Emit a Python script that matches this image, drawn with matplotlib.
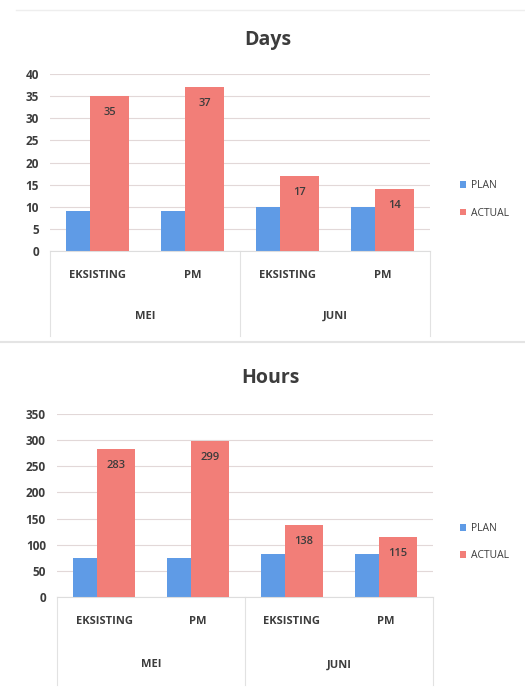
import matplotlib
matplotlib.use('Agg')
import matplotlib.pyplot as plt
import numpy as np

plt.rcParams['font.family'] = ['Open Sans', 'DejaVu Sans']

categories = ['EKSISTING', 'PM', 'EKSISTING', 'PM']
groups = ['MEI', 'JUNI']
series = ['PLAN', 'ACTUAL']

days_plan = [9, 9, 10, 10]
days_actual = [35, 37, 17, 14]
hours_plan = [74, 75, 82, 83]
hours_actual = [283, 299, 138, 115]

BLUE = '#5f9be6'
RED = '#f27e78'
TXT = '#3c3c3c'
GRID = '#e2d8d8'


def draw_panel(ax, title, plan, actual, ymax, ystep, title_x, title_y, leg_y):
    x = np.arange(len(categories))
    w = 0.41
    off = 0.126
    b1 = ax.bar(x - off, plan, w, color=BLUE, zorder=2, label=series[0])
    b2 = ax.bar(x + off, actual, w, color=RED, zorder=3, label=series[1])
    for xi, v in zip(x, actual):
        ax.annotate(str(v), (xi + off, v), xytext=(0, -12), textcoords='offset points',
                    ha='center', va='center', fontsize=8, color=TXT, zorder=4,
                    fontweight='semibold')
    ax.set_xlim(-0.5, len(categories) - 0.5)
    ax.set_ylim(0, ymax)
    ax.set_yticks(np.arange(0, ymax + 1, ystep))
    ax.yaxis.grid(True, color=GRID, lw=0.8, zorder=0)
    ax.set_axisbelow(True)
    for s in ['top', 'right', 'left']:
        ax.spines[s].set_visible(False)
    ax.spines['bottom'].set_color('#dddddd')
    ax.tick_params(axis='y', length=0, labelsize=8.5, labelcolor=TXT, pad=8)
    ax.tick_params(axis='x', length=0, labelsize=8, labelcolor=TXT, pad=14)
    ax.set_xticks(x)
    ax.set_xticklabels(categories)
    for lab in ax.get_yticklabels() + ax.get_xticklabels():
        lab.set_fontweight('bold')
    # group labels and separators under the axis
    trans = ax.get_xaxis_transform()
    for gi, g in enumerate(groups):
        ax.text(gi * 2 + 0.5, -0.37, g, transform=trans, ha='center', va='center',
                fontsize=8, color=TXT, fontweight='bold')
    for xs in [-0.5, 1.5, 3.5]:
        ax.plot([xs, xs], [0, -0.48], transform=trans, color='#e2e2e2', lw=0.8,
                clip_on=False)
    ax.figure.text(title_x, title_y, title, ha='center',
                   va='center', fontsize=14, fontweight='bold', color=TXT)
    ax.legend(handles=[b1, b2], loc='center left', bbox_to_anchor=(0.858, leg_y),
              bbox_transform=ax.figure.transFigure, frameon=False, fontsize=7.5,
              handlelength=0.6, handleheight=0.6, handletextpad=0.5,
              labelspacing=1.55, labelcolor=TXT)


fig = plt.figure(figsize=(5.25, 6.87), dpi=100)
fig.patch.set_facecolor('white')

ax1 = fig.add_axes([0.0952, 0.6346, 0.724, 0.2576])
draw_panel(ax1, 'Days', days_plan, days_actual, 40, 5,
           268 / 525, 1 - 40 / 687, 1 - 199.5 / 687)

ax2 = fig.add_axes([0.1086, 0.131, 0.716, 0.2664])
draw_panel(ax2, 'Hours', hours_plan, hours_actual, 350, 50,
           270 / 525, 1 - 378 / 687, 1 - 542 / 687)

# faint panel borders
fig.add_artist(plt.Line2D([0.03, 1.0], [1 - 10 / 687, 1 - 10 / 687], color='#eeeeee', lw=1))
fig.add_artist(plt.Line2D([0.0, 1.0], [1 - 342 / 687, 1 - 342 / 687], color='#e4e4e4', lw=1.5))

fig.savefig('out.png', dpi=100)
